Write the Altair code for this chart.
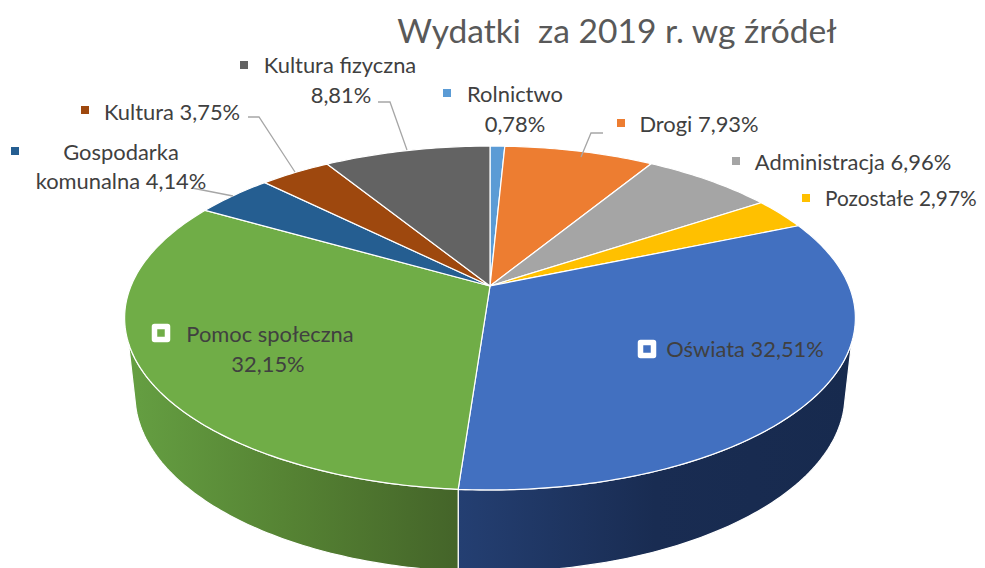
import numpy as np
import altair as alt

# ---- data ----
categories = ["Rolnictwo", "Drogi", "Administracja", "Pozostałe", "Oświata",
              "Pomoc społeczna", "Gospodarka komunalna", "Kultura", "Kultura fizyczna"]
shares = [0.78, 7.93, 6.96, 2.97, 32.51, 32.15, 4.14, 3.75, 8.81]
colors = ["#5b9bd5", "#ed7d31", "#a5a5a5", "#ffc000", "#4270c0",
          "#70ad47", "#255e91", "#9e480e", "#636363"]
title_text = "Wydatki\u00a0 za 2019 r. wg źródeł"

# ---- geometry of the tilted disc (page pixels) ----
OFF = 8
APEX_X, APEX_Y = 490.0, 286.0
A, B, K = 359.0, 166.0, 0.186
BOT_CX, BOT_CY, BOT_RX, BOT_RY = 490.0, 395.0, 355.0, 177.0
RIGHT_F, LEFT_F = 30.2, 69.8   # share position where the side wall emerges


def rim(pct):
    t = 2 * np.pi * np.asarray(pct, dtype=float) / 100.0
    u, v = np.sin(t), np.cos(t)
    d = 1 + K * v
    return APEX_X + A * u / d - OFF, APEX_Y - B * v / d - OFF


def bottom_rim(phi_deg):
    p = np.radians(np.asarray(phi_deg, dtype=float))
    return BOT_CX + BOT_RX * np.cos(p) - OFF, BOT_CY + BOT_RY * np.sin(p) - OFF


def feature(geom_type, coords):
    return {"type": "Feature", "properties": {}, "geometry": {"type": geom_type, "coordinates": coords}}


def polygon(xs, ys):
    pts = [[float(x), float(y)] for x, y in zip(xs, ys)]
    pts.append(pts[0])
    return feature("Polygon", [pts])


def geo(feat, **mark):
    return alt.Chart(alt.Data(values=[feat])).mark_geoshape(**mark).encode().project(
        type="identity", scale=1, translate=[0, 0])


edges = np.concatenate([[0], np.cumsum(shares)])
seam = edges[5]  # end of Oświata

# side walls
seam_x = rim(seam)[0] + OFF
seam_phi = np.degrees(np.arccos((seam_x - BOT_CX) / BOT_RX))

f1 = np.linspace(RIGHT_F, seam, 80)
x1, y1 = rim(f1)
bx1, by1 = bottom_rim(np.linspace(seam_phi, 4, 80))
blue_side = polygon(np.concatenate([x1, bx1]), np.concatenate([y1, by1]))

f2 = np.linspace(seam, LEFT_F, 80)
x2, y2 = rim(f2)
bx2, by2 = bottom_rim(np.linspace(176, seam_phi, 80))
green_side = polygon(np.concatenate([x2, bx2]), np.concatenate([y2, by2]))


def grad(stops):
    return alt.Gradient(gradient="linear", x1=0, x2=1, y1=0, y2=0,
                        stops=[alt.GradientStop(color=c, offset=o) for o, c in stops])


layers = [
    geo(blue_side, fill=grad([(0, "#243f72"), (0.5, "#192c52"), (1, "#172a4e")]),
        stroke="white", strokeWidth=1.2),
    geo(green_side, fill=grad([(0, "#659f42"), (0.5, "#558233"), (1, "#446429")]),
        stroke="white", strokeWidth=1.2),
]

# top face
for i, col in enumerate(colors):
    f = np.linspace(edges[i], edges[i + 1], max(4, int(shares[i] * 4)))
    xs, ys = rim(f)
    layers.append(geo(polygon(np.concatenate([[APEX_X - OFF], xs]), np.concatenate([[APEX_Y - OFF], ys])),
                      fill=col, stroke="white", strokeWidth=1.2))

# leader lines
leaders = [
    [(378, 102), (390, 102), (407, 150)],
    [(248, 117), (259, 117), (295, 172)],
    [(192, 188), (233, 196)],
    [(603, 133), (591, 133), (581, 157)],
]
for pts in leaders:
    layers.append(geo(feature("LineString", [[x - OFF, y - OFF] for x, y in pts]),
                      filled=False, stroke="#a6a6a6", strokeWidth=1.3))

LABEL_FONT = "Lato"
LABEL_SIZE = 21.9


def text(s, x, y, size=LABEL_SIZE, color="#404040", align="center"):
    return alt.Chart(alt.Data(values=[{"t": s}])).mark_text(
        font=LABEL_FONT, fontSize=size, color=color, align=align, baseline="middle"
    ).encode(text="t:N", x=alt.value(x - OFF), y=alt.value(y + 1 - OFF))


def marker(i, x, y):
    return alt.Chart(alt.Data(values=[{"t": 1}])).mark_point(
        shape="square", filled=True, fill=colors[i], strokeWidth=0, size=64, opacity=1
    ).encode(x=alt.value(x - OFF), y=alt.value(y - OFF))


def white_marker(i, x, y):
    return alt.Chart(alt.Data(values=[{"t": 1}])).mark_point(
        shape="square", filled=False, stroke="white", strokeWidth=5.5,
        strokeJoin="round", size=169, opacity=1
    ).encode(x=alt.value(x - OFF), y=alt.value(y - OFF))


layers += [
    text(title_text, 617, 32, size=33.6, color="#595959"),
    marker(8, 244, 65), text("Kultura fizyczna", 340, 65), text("8,81%", 341, 95),
    marker(0, 447, 93), text("Rolnictwo", 515, 94), text("0,78%", 515, 124),
    marker(1, 621, 123), text("Drogi 7,93%", 699, 124),
    marker(2, 736, 161), text("Administracja 6,96%", 853, 162),
    marker(3, 806, 198), text("Pozostałe 2,97%", 825, 199, size=20.8, align="left"),
    marker(7, 85, 110), text("Kultura 3,75%", 172, 112),
    marker(6, 15, 151), text("Gospodarka", 121, 152), text("komunalna 4,14%", 121, 181),
    white_marker(5, 161, 333), text("Pomoc społeczna", 270, 334), text("32,15%", 268, 364),
    white_marker(4, 647, 349), text("Oświata 32,51%", 745, 349),
]

chart = alt.layer(*layers).properties(
    width=969, height=560, padding=0, autosize="none", background="white",
).configure_view(strokeWidth=0)

chart.save("out.html", embed_options={"renderer": "svg", "actions": False})
